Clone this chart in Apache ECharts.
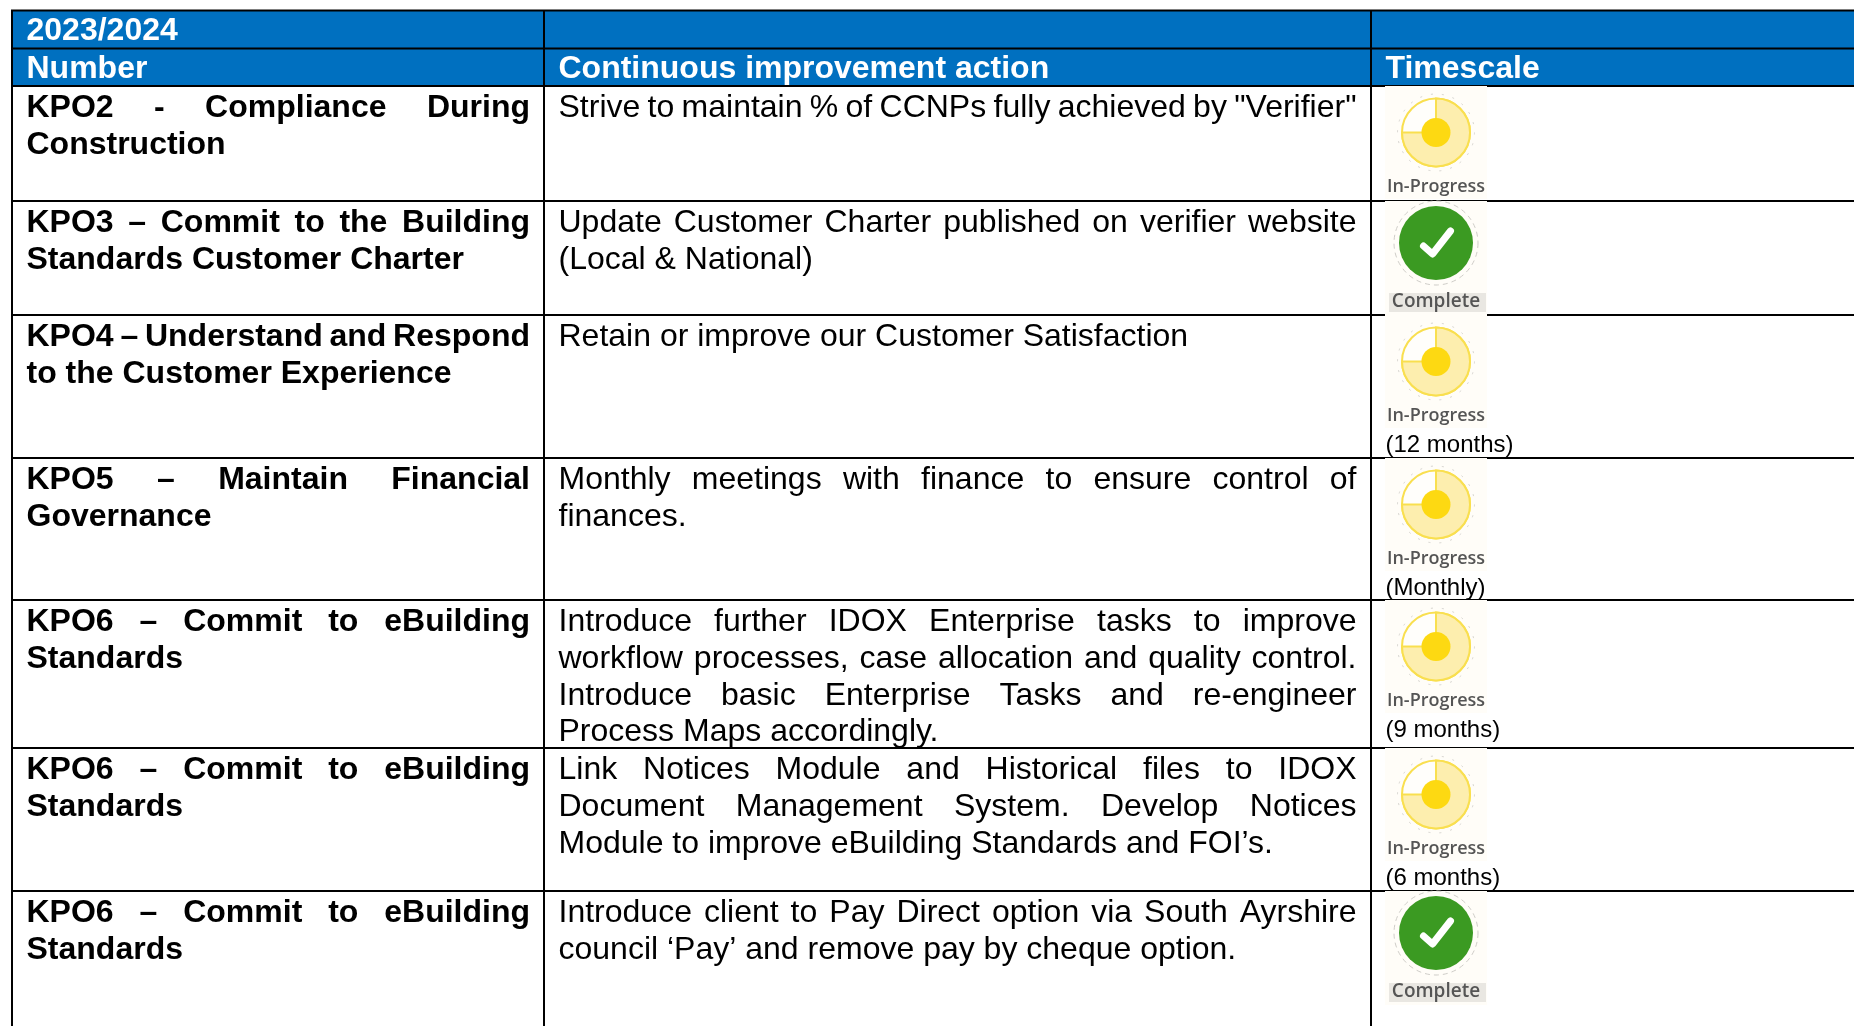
<!DOCTYPE html>
<html>
<head>
<meta charset="utf-8">
<title>2023/2024</title>
<script src="https://cdn.jsdelivr.net/npm/echarts@6/dist/echarts.min.js"></script>
<style>
  html, body { margin: 0; padding: 0; background: #fff; }
  #main { width: 1854px; height: 1026px; }
</style>
</head>
<body>
<div id="main"></div>
<script>
// table content
var yearLabel = "2023/2024";
var headers = ["Number", "Continuous improvement action", "Timescale"];
var numbers = [
  ["KPO2 - Compliance During", "Construction"],
  ["KPO3 – Commit to the Building", "Standards Customer Charter"],
  ["KPO4 – Understand and Respond", "to the Customer Experience"],
  ["KPO5 – Maintain Financial", "Governance"],
  ["KPO6 – Commit to eBuilding", "Standards"],
  ["KPO6 – Commit to eBuilding", "Standards"],
  ["KPO6 – Commit to eBuilding", "Standards"]
];
var actions = [
  ["Strive to maintain % of CCNPs fully achieved by \"Verifier\""],
  ["Update Customer Charter published on verifier website", "(Local & National)"],
  ["Retain or improve our Customer Satisfaction"],
  ["Monthly meetings with finance to ensure control of", "finances."],
  ["Introduce further IDOX Enterprise tasks to improve", "workflow processes, case allocation and quality control.", "Introduce basic Enterprise Tasks and re-engineer", "Process Maps accordingly."],
  ["Link Notices Module and Historical files to IDOX", "Document Management System. Develop Notices", "Module to improve eBuilding Standards and FOI’s."],
  ["Introduce client to Pay Direct option via South Ayrshire", "council ‘Pay’ and remove pay by cheque option."]
];
var statuses = ["In-Progress", "Complete", "In-Progress", "In-Progress", "In-Progress", "In-Progress", "Complete"];
var notes = ["", "", "(12 months)", "(Monthly)", "(9 months)", "(6 months)", ""];

// layout, in pixels of the page
var W = 1854, H = 1026;
var colEdges = [12, 544, 1371];
var headEdges = [10.5, 48.5, 86];
var rowEdges = [86, 201, 315, 458, 600, 748, 891];
var FONT = '"Liberation Sans", Arial, sans-serif';
var measure = document.createElement("canvas").getContext("2d");

function textWidth(s, bold) {
  measure.font = (bold ? "bold " : "") + "32px " + FONT;
  return measure.measureText(s).width;
}

function rect(api, x, y, w, h, color) {
  var a = api.coord([x, y]);
  return { type: "rect", shape: { x: a[0], y: a[1], width: w, height: h }, style: { fill: color } };
}

// one line of text, spreading the words out to the cell width when justify is on
function lineWords(api, line, x, right, y, bold, color, justify) {
  var words = line.split(" ");
  var gap = textWidth(" ", bold);
  if (justify && words.length > 1) {
    var total = 0;
    words.forEach(function (w) { total += textWidth(w, bold); });
    gap = (right - x - total) / (words.length - 1);
  }
  var out = [];
  var cx = x;
  words.forEach(function (w) {
    var p = api.coord([cx, y]);
    out.push({
      type: "text",
      style: { text: w, x: p[0], y: p[1], fill: color, font: (bold ? "bold " : "") + "32px " + FONT, textAlign: "left", textVerticalAlign: "middle" }
    });
    cx += textWidth(w, bold) + gap;
  });
  return out;
}

function renderGrid(params, api) {
  var kids = [];
  kids.push(rect(api, colEdges[0], headEdges[0], W - colEdges[0], headEdges[2] - headEdges[0], "#0070c0"));
  headEdges.concat(rowEdges.slice(1)).forEach(function (y) {
    kids.push(rect(api, colEdges[0] - 1, y - 1, W - colEdges[0] + 1, 2, "#000"));
  });
  colEdges.forEach(function (x) {
    kids.push(rect(api, x - 1, headEdges[0], 2, H - headEdges[0], "#000"));
  });
  return { type: "group", children: kids };
}

function renderHeader(params, api) {
  var i = api.value(0);
  var kids = [];
  if (i === 0) {
    kids = kids.concat(lineWords(api, yearLabel, colEdges[0] + 14.5, 0, headEdges[0] + 21, true, "#fff", false));
  }
  kids = kids.concat(lineWords(api, headers[i], colEdges[i] + 14.5, 0, headEdges[1] + 21, true, "#fff", false));
  return { type: "group", children: kids };
}

function renderRow(params, api) {
  var i = api.value(0);
  var top = rowEdges[i];
  var kids = [];
  numbers[i].forEach(function (line, k) {
    var just = k < numbers[i].length - 1;
    kids = kids.concat(lineWords(api, line, colEdges[0] + 14.5, colEdges[1] - 14, Math.round(top + 22 + k * 36.8), true, "#000", just));
  });
  actions[i].forEach(function (line, k) {
    // the first row is a single line squeezed to the cell width in the source
    var just = k < actions[i].length - 1 || i === 0;
    kids = kids.concat(lineWords(api, line, colEdges[1] + 14.5, colEdges[2] - 14.5, Math.round(top + 22 + k * 36.8), false, "#000", just));
  });
  return { type: "group", children: kids };
}

function renderStatus(params, api) {
  var i = api.value(0);
  var top = rowEdges[i];
  var done = statuses[i] === "Complete";
  var c = api.coord([1436, top + (done ? 42 : 46.5)]);
  var kids = [rect(api, 1385, top, 102, done ? 114 : 113, "#fffdf8")];
  if (done) {
    // speckles left around the icon and its caption in the source image
    kids.push({ type: "circle", shape: { cx: c[0], cy: c[1], r: 42 }, style: { fill: "none", stroke: "#cfcdc8", lineWidth: 1, lineDash: [5, 4] } });
    kids.push(rect(api, 1389, top + 92, 97, 19, "#e9e7e2"));
    kids.push({ type: "circle", shape: { cx: c[0], cy: c[1], r: 37 }, style: { fill: "#3b9a22" } });
    kids.push({
      type: "polyline",
      shape: { points: [[c[0] - 12.5, c[1] + 3], [c[0] - 3.5, c[1] + 11], [c[0] + 14.5, c[1] - 12]] },
      style: { fill: "none", stroke: "#fff", lineWidth: 7, lineCap: "round", lineJoin: "round" }
    });
  } else {
    kids.push({ type: "circle", shape: { cx: c[0], cy: c[1], r: 38.5 }, style: { fill: "none", stroke: "#d6d4cf", lineWidth: 1, lineDash: [2, 9] } });
    kids.push({ type: "circle", shape: { cx: c[0], cy: c[1], r: 34 }, style: { fill: "#fffefb", stroke: "#f9df4f", lineWidth: 2 } });
    kids.push({
      type: "sector",
      shape: { cx: c[0], cy: c[1], r: 34, r0: 0, startAngle: -Math.PI / 2, endAngle: Math.PI, clockwise: true },
      style: { fill: "#fdeeae", stroke: "#f9df4f", lineWidth: 2 }
    });
    kids.push({ type: "circle", shape: { cx: c[0], cy: c[1], r: 14.5 }, style: { fill: "#fdd912" } });
  }
  var lab = api.coord([1436, top + 101]);
  kids.push({
    type: "text",
    style: { text: statuses[i], x: lab[0], y: lab[1], fill: "#555", font: '600 ' + (done ? 19 : 18) + 'px "Open Sans", sans-serif', textAlign: "center", textVerticalAlign: "middle" }
  });
  if (notes[i]) {
    var n = api.coord([colEdges[2] + 14.5, top + 130.5]);
    kids.push({
      type: "text",
      style: { text: notes[i], x: n[0], y: n[1], fill: "#000", font: "24px " + FONT, textAlign: "left", textVerticalAlign: "middle" }
    });
  }
  return { type: "group", children: kids };
}

var rowIndex = statuses.map(function (s, i) { return [i]; });
var headIndex = headers.map(function (s, i) { return [i]; });

var myChart = echarts.init(document.getElementById("main"));
myChart.setOption({
  animation: false,
  tooltip: { show: false },
  grid: { left: 0, right: 0, top: 0, bottom: 0 },
  xAxis: { type: "value", min: 0, max: W, show: false },
  yAxis: { type: "value", min: 0, max: H, inverse: true, show: false },
  series: [
    { type: "custom", name: "grid", data: [[0]], renderItem: renderGrid, silent: true, z: 1, clip: false },
    { type: "custom", name: "status", data: rowIndex, renderItem: renderStatus, silent: true, z: 2, clip: false },
    { type: "custom", name: "header", data: headIndex, renderItem: renderHeader, silent: true, z: 3, clip: false },
    { type: "custom", name: "rows", data: rowIndex, renderItem: renderRow, silent: true, z: 3, clip: false }
  ]
});
</script>
</body>
</html>
